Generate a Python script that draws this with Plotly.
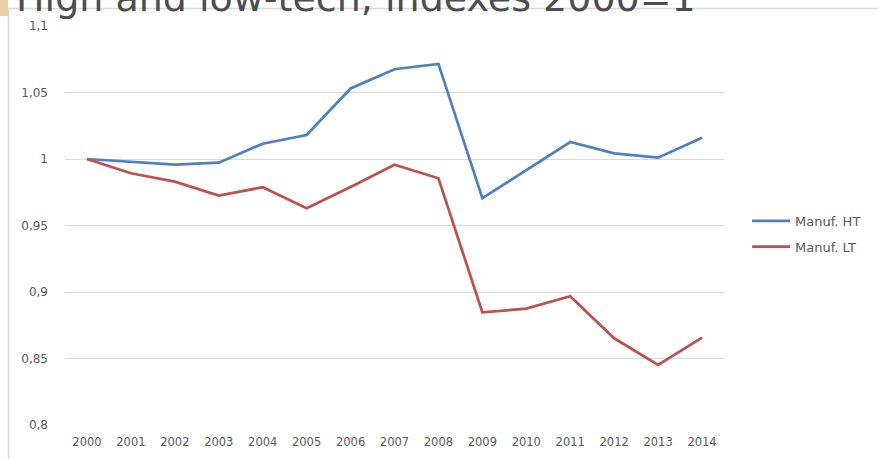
import plotly.graph_objects as go

years = [str(y) for y in range(2000, 2015)]
manuf_ht = [1.000, 0.998, 0.9957, 0.9972, 1.0115, 1.018, 1.053, 1.0675, 1.0715,
            0.9705, 0.9915, 1.0128, 1.0043, 1.001, 1.016]
manuf_lt = [1.000, 0.9893, 0.983, 0.9725, 0.9788, 0.963, 0.979, 0.9957, 0.9855,
            0.8847, 0.8875, 0.8968, 0.8652, 0.8452, 0.8657]
y_tickvals = [0.8, 0.85, 0.9, 0.95, 1.0, 1.05, 1.1]
y_ticktext = ["0,8", "0,85", "0,9", "0,95", "1", "1,05", "1,1"]
title_text = "High and low-tech, indexes 2000=1"

fig = go.Figure()
fig.add_trace(go.Scatter(x=years, y=manuf_ht, mode="lines", name="Manuf. HT",
                         legendgroup="a",
                         line=dict(color="#4F81BD", width=2.75)))
fig.add_trace(go.Scatter(x=years, y=manuf_lt, mode="lines", name="Manuf. LT",
                         legendgroup="b",
                         line=dict(color="#C0504D", width=2.75)))

fig.update_layout(
    width=878, height=459,
    margin=dict(l=65, r=154, t=26, b=34, autoexpand=False),
    paper_bgcolor="white", plot_bgcolor="white",
    font=dict(family="DejaVu Sans", color="#595959", size=11),
    showlegend=True,
    legend=dict(x=1.035, y=0.479, xanchor="left", yanchor="middle",
                font=dict(size=13, color="#595959"), tracegroupgap=6,
                itemwidth=38, bgcolor="rgba(0,0,0,0)"),
    xaxis=dict(type="category", range=[-0.5, 14.5], showgrid=False,
               showline=False, zeroline=False, ticks="", automargin=False,
               ticklabelstandoff=8, tickfont=dict(size=11.5, color="#595959")),
    yaxis=dict(range=[0.8, 1.1], tickvals=y_tickvals, ticktext=y_ticktext,
               showgrid=True, gridcolor="#D9D9D9", gridwidth=1, automargin=False,
               zeroline=False, showline=False, ticks="",
               ticklabelstandoff=16, tickfont=dict(size=12, color="#595959")),
)

# frame lines (slide border)
fig.add_shape(type="line", xref="paper", yref="paper",
              x0=(9 - 65) / 659, x1=(878 - 65) / 659 + 0.01,
              y0=(425 - 8.5) / 399, y1=(425 - 8.5) / 399,
              line=dict(color="#D9D9D9", width=1.5))
fig.add_shape(type="line", xref="paper", yref="paper",
              x0=(8.5 - 65) / 659, x1=(8.5 - 65) / 659,
              y0=(425 - 8.5) / 399, y1=(425 - 470) / 399,
              line=dict(color="#D9D9D9", width=1.5))
# tan decoration at top-left
fig.add_shape(type="rect", xref="paper", yref="paper",
              x0=(0 - 65) / 659, x1=(8 - 65) / 659,
              y0=(425 - 16) / 399, y1=(425 + 5) / 399,
              fillcolor="#E6D3A6", line=dict(width=0), layer="above")

fig.add_annotation(text=title_text, xref="paper", yref="paper",
                   x=(14 - 65) / 659, y=(425 - 22) / 399,
                   xanchor="left", yanchor="bottom", showarrow=False,
                   font=dict(family="DejaVu Sans", size=38, color="#4D4D4D"))

fig.write_html("out.html")
